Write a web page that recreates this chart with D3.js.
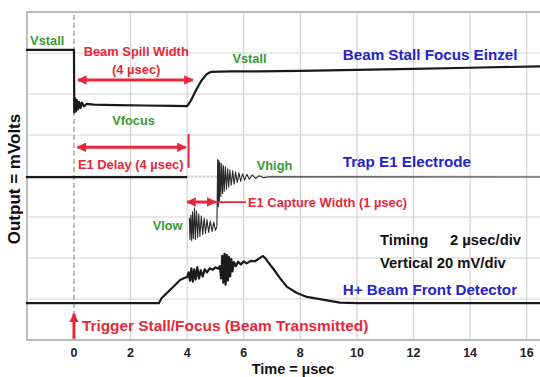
<!DOCTYPE html>
<html>
<head>
<meta charset="utf-8">
<script src="https://cdn.jsdelivr.net/npm/d3@7"></script>
<style>
  body { margin: 0; background: #fff; }
  svg { display: block; font-family: "Liberation Sans", Arial, sans-serif; font-weight: bold; }
</style>
</head>
<body>
<svg id="chart" width="540" height="377"></svg>
<script>
// time in usec, output in mV (20 mV per division, 8 divisions)
let xTicks = [0, 2, 4, 6, 8, 10, 12, 14, 16];
let yGrid = [0, 20, 40, 60, 80, 100, 120, 140, 160];

// Beam Stall Focus Einzel
let einzel = [[-1.7,141.5],[0,141.5],[0.01,111],[0.04,118],[0.07,111.5],[0.1,117],[0.14,112.5],[0.18,116.2],[0.23,113.2],[0.28,115.8],[0.35,114],[0.45,115.2],[0.7,114.8],[1.5,114.6],[2.5,114.4],[3.5,114.2],[4.0,114.1],[4.12,116.5],[4.3,121.5],[4.5,126.5],[4.7,129.8],[4.85,130.8],[5.5,131],[6.5,131],[8,131.3],[10,131.8],[12,132.3],[14,132.8],[16.5,133.5]];

// Trap E1 Electrode
let trapBase = [[-1.7,79.5],[4.0,79.5]];
let trapLow = [[4.08,59.5],[4.1,49],[4.13,61],[4.16,48.5],[4.19,62.5],[4.22,49.5],[4.26,64.5],[4.29,49],[4.33,63],[4.37,50],[4.41,61.5],[4.45,50.5],[4.5,60.5],[4.55,51.5],[4.6,59.5],[4.65,52],[4.7,58.8],[4.76,52.5],[4.82,58],[4.88,53],[4.94,57.5],[5.0,53.5],[5.05,55]];
let trapHigh = [[5.05,55],[5.06,66],[5.08,88],[5.1,65],[5.12,87.5],[5.14,68],[5.16,86.5],[5.19,70],[5.22,86],[5.25,71.5],[5.28,85],[5.31,72.5],[5.35,84.5],[5.39,73.5],[5.43,83.5],[5.47,74.5],[5.51,83],[5.56,75.5],[5.61,82.5],[5.66,76],[5.71,82],[5.77,76.8],[5.83,81.5],[5.89,77.4],[5.96,81],[6.03,78],[6.11,80.8],[6.2,78.4],[6.3,80.5],[6.42,78.8],[6.55,80.1],[6.7,79.2],[6.9,79.6],[16.5,79.5]];

// H+ Beam Front Detector
let detector = [[-1.7,18],[3.0,18],[3.1,20.5],[3.25,22.5],[3.4,24.5],[3.55,26.5],[3.75,29.3],[3.9,30.2],[4.0,30.7],[4.05,33],[4.1,29],[4.15,35],[4.2,28.5],[4.25,34.5],[4.3,29.5],[4.36,35.5],[4.42,30],[4.48,34],[4.55,31],[4.62,34.5],[4.7,33],[4.8,35],[4.9,34.2],[5.0,35.4],[5.1,34.8],[5.16,36],[5.2,30],[5.24,41],[5.28,28],[5.32,42],[5.36,27],[5.4,41.5],[5.44,29],[5.48,40.5],[5.52,31],[5.56,39.5],[5.6,33.5],[5.65,38],[5.72,36],[5.8,38.2],[5.9,36.8],[6.0,38.4],[6.1,37.4],[6.25,38.6],[6.4,38.4],[6.55,39.8],[6.68,41],[6.78,39.6],[6.86,38],[7.03,35],[7.28,30.2],[7.53,25.9],[7.88,22.9],[8.23,21],[8.59,20.2],[8.94,19.3],[9.4,18.2],[10,18],[16.5,18]];

let traceLabels = [
    {text: "Beam Stall Focus Einzel", t: 9.5, v: 136.5},
    {text: "Trap E1 Electrode", t: 9.5, v: 84.5},
    {text: "H+ Beam Front Detector", t: 9.5, v: 22}
];
let levelLabels = [
    {text: "Vstall", t: -1.55, v: 144},
    {text: "Vstall", t: 5.6, v: 135},
    {text: "Vfocus", t: 1.35, v: 105},
    {text: "Vhigh", t: 6.46, v: 83},
    {text: "Vlow", t: 2.78, v: 53.5}
];
let redLabels = [
    {text: "Beam Spill Width", t: 2.2, v: 138.5, anchor: "middle"},
    {text: "(4 \u00b5sec)", t: 2.2, v: 130, anchor: "middle"},
    {text: "E1 Delay (4 \u00b5sec)", t: 0.14, v: 83.5, anchor: "start"},
    {text: "E1 Capture Width (1 \u00b5sec)", t: 6.15, v: 65, anchor: "start"},
    {text: "Trigger Stall/Focus (Beam Transmitted)", t: 0.28, v: 4.5, anchor: "start"}
];
let scopeSettings = ["Timing", "2 \u00b5sec/div", "Vertical 20 mV/div"];

let svg = d3.select("#chart");
let margin = {top: 12, right: 0, bottom: 37, left: 27};
let W = 540, H = 377;

let x = d3.scaleLinear().domain([-1.66, 16.47]).range([margin.left, W - margin.right]);
let y = d3.scaleLinear().domain([0, 160]).range([H - margin.bottom, margin.top]);

let red = "#e8283a", green = "#3a9a34", blue = "#2424c8";

// grid
let grid = svg.append("g");
grid.selectAll("line.h").data(yGrid).enter().append("line")
    .attr("x1", x.range()[0]).attr("x2", x.range()[1])
    .attr("y1", d => y(d)).attr("y2", d => y(d))
    .attr("stroke", "#d4d4d4").attr("stroke-width", 1.2);
grid.selectAll("line.v").data(xTicks.filter(d => d > 0)).enter().append("line")
    .attr("x1", d => x(d)).attr("x2", d => x(d))
    .attr("y1", y(0)).attr("y2", y(160))
    .attr("stroke", "#d4d4d4").attr("stroke-width", 1.2);
// trigger line at t=0
grid.append("line")
    .attr("x1", x(0)).attr("x2", x(0)).attr("y1", y(0)).attr("y2", y(160))
    .attr("stroke", "#999").attr("stroke-width", 1.3).attr("stroke-dasharray", "5,3");
// frame
grid.append("path")
    .attr("d", `M${W},${y(160)}H${x.range()[0]}V${y(0)}H${W}`)
    .attr("fill", "none").attr("stroke", "#aaa").attr("stroke-width", 1.5);

// x axis labels
svg.append("g").selectAll("text").data(xTicks).enter().append("text")
    .attr("x", d => x(d)).attr("y", 357)
    .attr("text-anchor", "middle").attr("font-size", 12.5).attr("fill", "#222")
    .text(d => d);
svg.append("text").attr("x", 293).attr("y", 374).attr("text-anchor", "middle")
    .attr("font-size", 14.5).attr("fill", "#111").text("Time = \u00b5sec");
svg.append("text").attr("transform", "translate(20,179) rotate(-90)")
    .attr("text-anchor", "middle").attr("font-size", 17).attr("fill", "#111")
    .text("Output = mVolts");

// faint trace between 4 and 5 usec on E1
svg.append("line").attr("x1", x(4.0)).attr("x2", x(5.05)).attr("y1", y(79.5)).attr("y2", y(79.5))
    .attr("stroke", "#aaa").attr("stroke-width", 1).attr("stroke-dasharray", "2,2");

// traces
let line = d3.line().x(d => x(d[0])).y(d => y(d[1]));
svg.append("g").selectAll("path").data([einzel, trapBase, detector]).enter().append("path")
    .attr("d", line).attr("fill", "none").attr("stroke", "#1a1a1a")
    .attr("stroke-width", 2.2).attr("stroke-linejoin", "round");
svg.append("g").selectAll("path").data([trapLow, trapHigh]).enter().append("path")
    .attr("d", line).attr("fill", "none").attr("stroke", "#2a2a2a")
    .attr("stroke-width", 1.1).attr("stroke-linejoin", "round");

// arrow marker
let defs = svg.append("defs");
defs.append("marker").attr("id", "ah").attr("viewBox", "0 0 10 10")
    .attr("refX", 9).attr("refY", 5).attr("markerWidth", 3.2).attr("markerHeight", 3.2)
    .attr("markerUnits", "strokeWidth").attr("orient", "auto-start-reverse")
    .append("path").attr("d", "M0,0L10,5L0,10Z").attr("fill", red);

let arrows = svg.append("g").attr("stroke", red).attr("fill", "none");
arrows.append("line").attr("x1", x(0.14)).attr("x2", x(4.2)).attr("y1", y(126.8)).attr("y2", y(126.8))
    .attr("stroke-width", 3).attr("marker-start", "url(#ah)").attr("marker-end", "url(#ah)");
arrows.append("line").attr("x1", x(0.12)).attr("x2", x(3.95)).attr("y1", y(94)).attr("y2", y(94))
    .attr("stroke-width", 3).attr("marker-start", "url(#ah)").attr("marker-end", "url(#ah)");
arrows.append("line").attr("x1", x(4.05)).attr("x2", x(4.05)).attr("y1", y(100.5)).attr("y2", y(84))
    .attr("stroke-width", 2);
arrows.append("line").attr("x1", x(4.0)).attr("x2", x(5.0)).attr("y1", y(67.3)).attr("y2", y(67.3))
    .attr("stroke-width", 3).attr("marker-start", "url(#ah)").attr("marker-end", "url(#ah)");
arrows.append("line").attr("x1", x(4.9)).attr("x2", x(6.08)).attr("y1", y(67.3)).attr("y2", y(67.3))
    .attr("stroke-width", 1.8);
arrows.append("line").attr("x1", x(0)).attr("x2", x(0)).attr("y1", y(0.6)).attr("y2", y(12.8))
    .attr("stroke-width", 3).attr("marker-end", "url(#ah)");

// labels
svg.append("g").selectAll("text").data(redLabels).enter().append("text")
    .attr("x", d => x(d.t)).attr("y", d => y(d.v)).attr("text-anchor", d => d.anchor)
    .attr("font-size", (d, i) => i === 4 ? 15.4 : 12.9).attr("fill", red).text(d => d.text);
svg.append("g").selectAll("text").data(levelLabels).enter().append("text")
    .attr("x", d => x(d.t)).attr("y", d => y(d.v))
    .attr("font-size", 12.8).attr("fill", green).text(d => d.text);
svg.append("g").selectAll("text").data(traceLabels).enter().append("text")
    .attr("x", d => x(d.t)).attr("y", d => y(d.v))
    .attr("font-size", 15.2).attr("fill", blue).text(d => d.text);

let notes = svg.append("g").attr("font-size", 14.8).attr("fill", "#111");
notes.append("text").attr("x", 380).attr("y", 245).text(scopeSettings[0]);
notes.append("text").attr("x", 450).attr("y", 245).text(scopeSettings[1]);
notes.append("text").attr("x", 380).attr("y", 268).text(scopeSettings[2]);
</script>
</body>
</html>
